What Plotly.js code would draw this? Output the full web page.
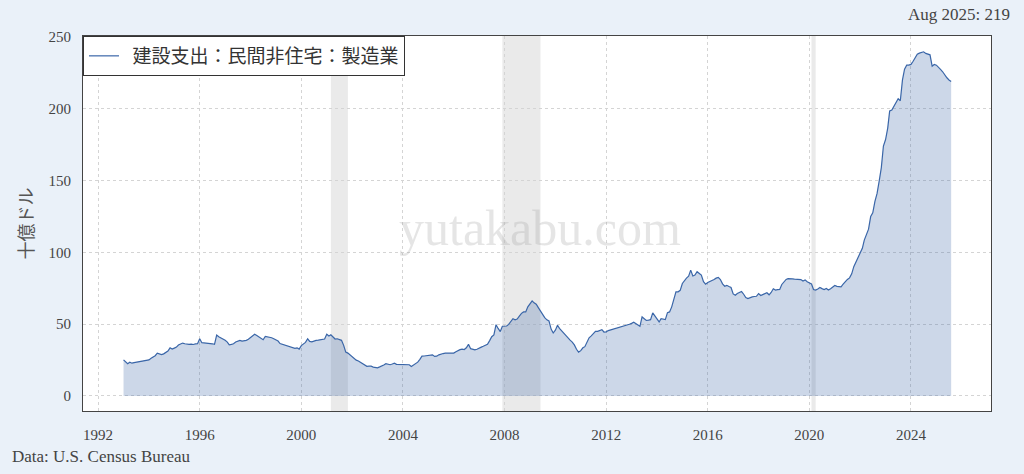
<!DOCTYPE html>
<html>
<head>
<meta charset="utf-8">
<script src="https://cdn.plot.ly/plotly-3.0.1.min.js"></script>
<style>
  html, body { margin: 0; padding: 0; background: #eaf1f9; }
  #chart { width: 1024px; height: 474px; }
</style>
</head>
<body>
<div id="chart"></div>
<script>
// Monthly series, Jan 1993 – Aug 2025 (billions of dollars, SAAR)
const seriesName = "建設支出：民間非住宅：製造業";
const startYear = 1993;
const values = [
  25.1, 23.5, 22.4, 23.5, 22.8, 23.2, 23.4, 23.6, 23.9, 24.2, 24.7, 24.9, // 1993
  25.1, 26.2, 26.8, 28.0, 29.8, 29.0, 28.8, 29.3, 30.6, 31.3, 33.5, 32.6, // 1994
  33.3, 34.0, 35.4, 36.3, 36.8, 36.3, 36.0, 35.9, 36.1, 35.8, 36.2, 36.3, // 1995
  39.8, 37.0, 36.9, 36.8, 36.7, 36.8, 36.3, 35.9, 42.4, 41.2, 40.5, 39.8, // 1996
  38.7, 37.5, 35.6, 35.9, 36.3, 37.5, 38.2, 38.7, 38.2, 38.4, 38.7, 39.4, // 1997
  40.5, 41.5, 42.9, 42.0, 41.0, 40.2, 39.1, 41.5, 41.2, 41.0, 40.5, 39.8, // 1998
  39.0, 38.2, 36.5, 36.0, 35.6, 35.4, 35.0, 34.5, 33.6, 33.1, 33.5, 32.6, // 1999
  35.0, 36.0, 37.3, 39.8, 38.0, 37.7, 38.4, 38.7, 38.9, 39.1, 39.5, 39.6, // 2000
  42.9, 41.7, 42.6, 41.0, 39.6, 39.8, 39.3, 38.7, 35.2, 30.5, 29.8, 28.5, // 2001
  27.0, 26.0, 24.9, 24.3, 23.3, 22.2, 21.5, 20.6, 20.7, 20.7, 20.1, 19.8, // 2002
  19.6, 20.2, 20.6, 21.5, 22.4, 21.9, 21.7, 22.2, 22.8, 22.0, 21.9, 21.9, // 2003
  21.8, 21.6, 21.4, 21.7, 20.5, 21.6, 22.6, 23.5, 25.5, 27.7, 27.8, 27.9, // 2004
  28.2, 28.4, 28.6, 27.5, 27.7, 28.6, 29.3, 29.5, 29.8, 29.8, 29.8, 29.8, // 2005
  29.8, 30.8, 31.7, 32.2, 32.6, 32.3, 33.5, 35.9, 32.9, 32.3, 32.1, 32.5, // 2006
  33.5, 34.0, 34.6, 35.2, 36.0, 38.5, 41.2, 42.5, 49.6, 47.0, 44.8, 48.5, // 2007
  48.5, 48.7, 49.8, 51.5, 53.8, 53.0, 53.5, 55.5, 57.5, 58.5, 58.5, 62.0, // 2008
  64.5, 66.2, 64.8, 63.8, 61.5, 59.0, 56.9, 54.5, 53.0, 52.2, 46.5, 43.8, // 2009
  45.8, 49.2, 47.0, 45.2, 43.5, 42.2, 40.5, 38.8, 37.5, 35.5, 32.5, 30.5, // 2010
  31.5, 33.5, 34.3, 37.0, 40.5, 41.8, 43.5, 44.9, 45.0, 45.5, 46.1, 44.5, // 2011
  44.6, 45.5, 45.9, 46.3, 46.8, 47.2, 47.5, 47.8, 48.5, 49.0, 49.5, 49.9, // 2012
  50.5, 51.3, 50.5, 49.5, 48.5, 55.0, 53.5, 52.6, 52.8, 53.1, 57.8, 55.5, // 2013
  53.0, 51.5, 53.8, 53.5, 53.1, 58.0, 58.5, 62.0, 67.5, 72.4, 72.5, 73.5, // 2014
  78.3, 80.5, 82.0, 83.4, 87.6, 83.5, 84.1, 86.5, 85.5, 84.1, 79.5, 77.8, // 2015
  79.0, 79.5, 80.2, 81.0, 82.0, 82.5, 81.0, 78.0, 76.4, 77.0, 76.2, 75.5, // 2016
  71.0, 70.1, 71.3, 72.0, 72.7, 70.8, 68.5, 67.8, 68.5, 69.0, 69.2, 69.4, // 2017
  71.3, 69.9, 70.5, 71.3, 71.8, 70.4, 72.0, 74.6, 73.7, 74.0, 74.1, 77.6, // 2018
  79.5, 81.1, 81.6, 81.8, 81.5, 81.3, 81.2, 81.1, 81.0, 80.0, 80.8, 79.5, // 2019
  78.6, 77.9, 74.1, 73.7, 74.5, 75.5, 74.7, 74.1, 74.8, 73.7, 74.6, 75.5, // 2020
  76.9, 76.3, 76.0, 76.0, 77.8, 79.8, 81.1, 82.2, 85.0, 90.0, 93.5, 96.8, // 2021
  100.0, 102.8, 108.5, 113.0, 116.1, 124.9, 127.5, 135.5, 141.0, 149.5, 159.0, 174.0, // 2022
  178.5, 186.5, 198.4, 199.1, 201.9, 204.2, 207.0, 205.5, 220.0, 227.5, 230.3, 230.3, // 2023
  230.8, 233.0, 235.7, 238.0, 238.7, 239.4, 239.6, 238.5, 238.0, 237.5, 229.6, 230.8, // 2024
  230.3, 228.4, 227.3, 225.7, 223.3, 221.5, 220.0, 219.0                          // 2025
];

// Recession periods (NBER)
const recessionStarts = ["2001-03-01", "2007-12-01", "2020-02-01"];
const recessionEnds   = ["2001-11-01", "2009-06-01", "2020-04-01"];

const yTickVals = [0, 50, 100, 150, 200, 250];
const latestLabel = "Aug 2025: 219";
const sourceLabel = "Data: U.S. Census Bureau";
const watermark = "yutakabu.com";
const yTitle = "十億ドル";

const dates = values.map((_, i) => {
  const y = startYear + Math.floor(i / 12);
  const m = (i % 12) + 1;
  return y + "-" + String(m).padStart(2, "0") + "-01";
});

const serif = "Liberation Serif, Noto Sans CJK JP, serif";
const cjk = "Noto Sans CJK JP, Liberation Serif, sans-serif";
const lineColor = "#3a66a8";

const areaTrace = {
  x: dates,
  y: values,
  type: "scatter",
  mode: "lines",
  name: seriesName,
  showlegend: false,
  line: { color: lineColor, width: 1.2 },
  fill: "tozeroy",
  fillcolor: "rgba(58,102,168,0.26)"
};

// legend entry (line only, as in the reference)
const legendTrace = {
  x: [null], y: [null],
  type: "scatter", mode: "lines",
  name: "  " + seriesName,
  line: { color: lineColor, width: 1.2 }
};

const shapes = recessionStarts.map((s, i) => ({
  type: "rect", xref: "x", yref: "paper",
  x0: s, x1: recessionEnds[i], y0: 0, y1: 1,
  fillcolor: "rgba(170,170,170,0.25)", line: { width: 0 }, layer: "below"
}));

const plotW = 1024 - 83 - 33, plotH = 474 - 36 - 63;

const layout = {
  width: 1024, height: 474,
  paper_bgcolor: "#eaf1f9",
  plot_bgcolor: "#ffffff",
  margin: { l: 83, r: 33, t: 36, b: 63 },
  showlegend: true,
  legend: {
    x: 0, y: 1, xanchor: "left", yanchor: "top",
    bgcolor: "#ffffff", bordercolor: "#333333", borderwidth: 1,
    font: { family: cjk, size: 19, color: "#333333" },
    tracegroupgap: 0
  },
  xaxis: {
    type: "date",
    range: ["1991-05-29", "2027-02-25"],
    tick0: "1992-01-01", dtick: "M48", tickformat: "%Y",
    showgrid: true, gridcolor: "#d4d4d4", griddash: "3px,3px", gridwidth: 1,
    showline: true, linecolor: "#444444", linewidth: 1, mirror: true,
    ticks: "", ticklabelstandoff: 10,
    tickfont: { family: serif, size: 15, color: "#444444" },
    zeroline: false
  },
  yaxis: {
    range: [-10.5, 250.6],
    tickvals: yTickVals,
    showgrid: true, gridcolor: "#d4d4d4", griddash: "3px,3px", gridwidth: 1,
    showline: true, linecolor: "#444444", linewidth: 1, mirror: true,
    ticks: "", ticklabelstandoff: 8,
    tickfont: { family: serif, size: 15, color: "#444444" },
    zeroline: false,
    title: { text: yTitle, font: { family: cjk, size: 18, color: "#555555" }, standoff: 10 }
  },
  shapes: shapes,
  annotations: [
    {
      text: watermark, xref: "paper", yref: "paper", x: 0.503, y: 0.488,
      showarrow: false, font: { family: serif, size: 50, color: "rgba(160,160,160,0.28)" }
    },
    {
      text: latestLabel, xref: "paper", yref: "paper",
      x: (1012 - 83) / plotW, y: 1 + (36 - 15) / plotH,
      xanchor: "right", yanchor: "middle", showarrow: false,
      font: { family: serif, size: 17, color: "#444444" }
    },
    {
      text: sourceLabel, xref: "paper", yref: "paper",
      x: (10 - 83) / plotW, y: -(456 - 411) / plotH,
      xanchor: "left", yanchor: "middle", showarrow: false,
      font: { family: serif, size: 17, color: "#444444" }
    }
  ]
};

Plotly.newPlot("chart", [areaTrace, legendTrace], layout, { displayModeBar: false, staticPlot: true });
</script>
</body>
</html>
